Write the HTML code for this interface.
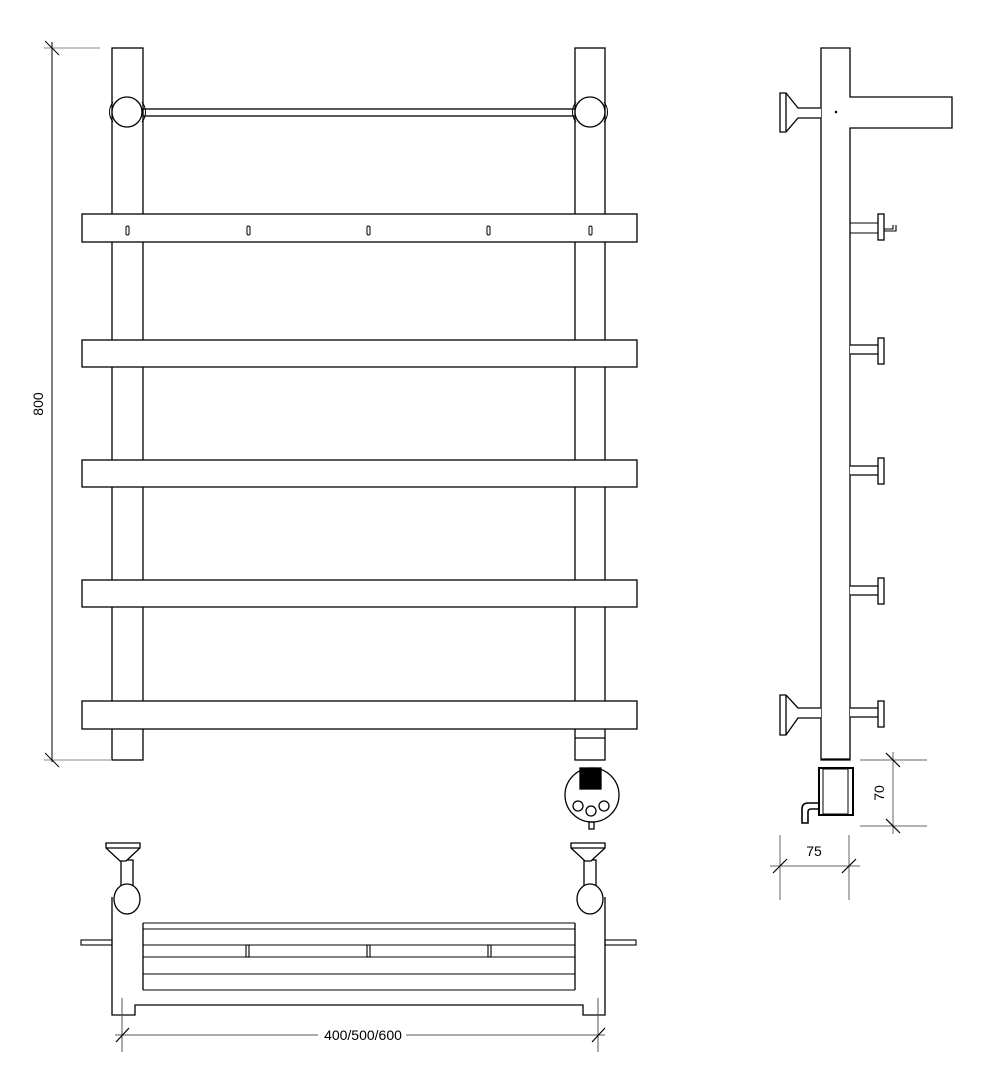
<!DOCTYPE html>
<html><head><meta charset="utf-8"><style>html,body{margin:0;background:#fff}svg{display:block}</style></head><body>
<svg width="995" height="1080" viewBox="0 0 995 1080" xmlns="http://www.w3.org/2000/svg" fill="none" stroke="#000" stroke-width="1.3" font-family="Liberation Sans, sans-serif">
<!-- FRONT VIEW -->
<rect x="112" y="48" width="31" height="712" fill="#fff"/>
<rect x="575" y="48" width="30" height="712" fill="#fff"/>
<line x1="575" y1="738" x2="605" y2="738"/>
<rect x="143" y="109" width="432" height="7" fill="#fff"/>
<circle cx="127" cy="112" r="15" fill="#fff"/>
<circle cx="590" cy="112" r="15" fill="#fff"/>
<path d="M113 102 A16 16 0 0 0 113 122 M142 102 A16 16 0 0 1 142 122 M576 102 A16 16 0 0 0 576 122 M604 102 A16 16 0 0 1 604 122" stroke-width="1"/>
<g fill="#fff">
<rect x="82" y="214" width="555" height="28"/>
<rect x="82" y="340" width="555" height="27"/>
<rect x="82" y="460" width="555" height="27"/>
<rect x="82" y="580" width="555" height="27"/>
<rect x="82" y="701" width="555" height="28"/>
</g>
<g stroke-width="1">
<rect x="126" y="226" width="3" height="9" rx="1.5"/><rect x="247" y="226" width="3" height="9" rx="1.5"/><rect x="367" y="226" width="3" height="9" rx="1.5"/><rect x="487" y="226" width="3" height="9" rx="1.5"/><rect x="589" y="226" width="3" height="9" rx="1.5"/>
</g>
<!-- heater -->
<circle cx="592" cy="795" r="27" fill="#fff"/>
<rect x="580" y="768" width="21" height="21" fill="#000"/>
<circle cx="578" cy="806" r="5"/><circle cx="591" cy="811" r="5"/><circle cx="604" cy="806" r="5"/>
<rect x="589" y="822" width="5" height="7"/>
<!-- 800 dim -->
<g stroke-width="1">
<line x1="52" y1="42" x2="52" y2="762"/>
<line x1="44" y1="48" x2="100" y2="48" stroke="#888"/>
<line x1="44" y1="760" x2="112" y2="760" stroke="#888"/>
<line x1="45" y1="41" x2="59" y2="55"/>
<line x1="45" y1="753" x2="59" y2="767"/>
</g>
<text x="43" y="404" font-size="14" fill="#000" stroke="none" text-anchor="middle" transform="rotate(-90 43 404)">800</text>
<!-- SIDE VIEW -->
<path d="M821 48 H850 V97 H952 V128 H850 V760 H821 Z" fill="#fff"/>
<line x1="821" y1="759" x2="850" y2="759"/>
<circle cx="836" cy="112" r="0.6" fill="#000"/>
<path d="M821 108 H798 L786 93 H780 V132 H786 L798 118 H821" fill="#fff"/>
<line x1="786" y1="93" x2="786" y2="132"/>
<path d="M821 708 H798 L786 695 H780 V735 H786 L798 718 H821" fill="#fff"/>
<line x1="786" y1="695" x2="786" y2="735"/>
<path d="M850 223 H878 M850 233 H878 M884 231 H896 V225 M893 225 V229 H884" stroke-width="1.1"/>
<rect x="878" y="214" width="6" height="26" fill="#fff"/>
<g fill="#fff">
<path d="M850 345 H880 V354 H850"/><rect x="878" y="338" width="6" height="26"/>
<path d="M850 466 H880 V475 H850"/><rect x="878" y="458" width="6" height="26"/>
<path d="M850 586 H880 V595 H850"/><rect x="878" y="578" width="6" height="26"/>
<path d="M850 708 H880 V717 H850"/><rect x="878" y="701" width="6" height="26"/>
</g>
<rect x="819" y="768" width="34" height="47" stroke-width="2"/>
<rect x="823" y="769" width="25" height="45" stroke-width="1"/>
<path d="M819 803 H808 Q802 803 802 809 V823 H808 V812 Q808 809 811 809 H819" stroke-width="1.6"/>
<g stroke-width="1" stroke="#666">
<line x1="860" y1="760" x2="927" y2="760"/>
<line x1="860" y1="826" x2="927" y2="826"/>
<line x1="893" y1="752" x2="893" y2="834"/>
<line x1="780" y1="835" x2="780" y2="900"/>
<line x1="849" y1="835" x2="849" y2="900"/>
<line x1="770" y1="866" x2="860" y2="866"/>
</g>
<g stroke-width="1.2">
<line x1="886" y1="753" x2="900" y2="767"/><line x1="886" y1="819" x2="900" y2="833"/>
<line x1="773" y1="873" x2="787" y2="859"/><line x1="842" y1="873" x2="856" y2="859"/>
</g>
<text x="884" y="793" font-size="14" fill="#000" stroke="none" text-anchor="middle" transform="rotate(-90 884 793)">70</text>
<text x="814" y="856" font-size="14" fill="#000" stroke="none" text-anchor="middle">75</text>
<!-- PLAN VIEW -->
<path d="M112 897 V1015 H135 V1005 H583 V1015 H605 V897" fill="#fff"/>
<line x1="143" y1="923" x2="143" y2="990"/><line x1="575" y1="923" x2="575" y2="990"/>
<g stroke-width="1.1">
<line x1="143" y1="923" x2="575" y2="923"/>
<line x1="143" y1="929" x2="575" y2="929"/>
<line x1="143" y1="945" x2="575" y2="945"/>
<line x1="143" y1="957" x2="575" y2="957"/>
<line x1="143" y1="974" x2="575" y2="974"/>
<line x1="143" y1="990" x2="575" y2="990"/>
<rect x="246" y="945" width="3" height="12"/><rect x="367" y="945" width="3" height="12"/><rect x="488" y="945" width="3" height="12"/>
<rect x="81" y="940" width="31" height="5"/><rect x="605" y="940" width="31" height="5"/>
</g>
<rect x="121" y="860" width="12" height="26" fill="#fff"/>
<rect x="584" y="860" width="12" height="26" fill="#fff"/>
<path d="M106 843 H140 V848 L126 861 H120 L106 848 Z" fill="#fff"/>
<line x1="106" y1="848" x2="140" y2="848"/>
<path d="M571 843 H605 V848 L591 861 H585 L571 848 Z" fill="#fff"/>
<line x1="571" y1="848" x2="605" y2="848"/>
<ellipse cx="127" cy="899" rx="13" ry="15" fill="#fff"/>
<ellipse cx="590" cy="899" rx="13" ry="15" fill="#fff"/>
<g stroke-width="1" stroke="#555">
<line x1="122" y1="998" x2="122" y2="1052"/>
<line x1="598" y1="998" x2="598" y2="1052"/>
<line x1="115" y1="1035" x2="318" y2="1035"/>
<line x1="406" y1="1035" x2="605" y2="1035"/>
</g>
<g stroke-width="1.2"><line x1="116" y1="1042" x2="129" y2="1028"/><line x1="592" y1="1042" x2="605" y2="1028"/></g>
<text x="363" y="1040" font-size="14" fill="#000" stroke="none" text-anchor="middle">400/500/600</text>
</svg>
</body></html>
